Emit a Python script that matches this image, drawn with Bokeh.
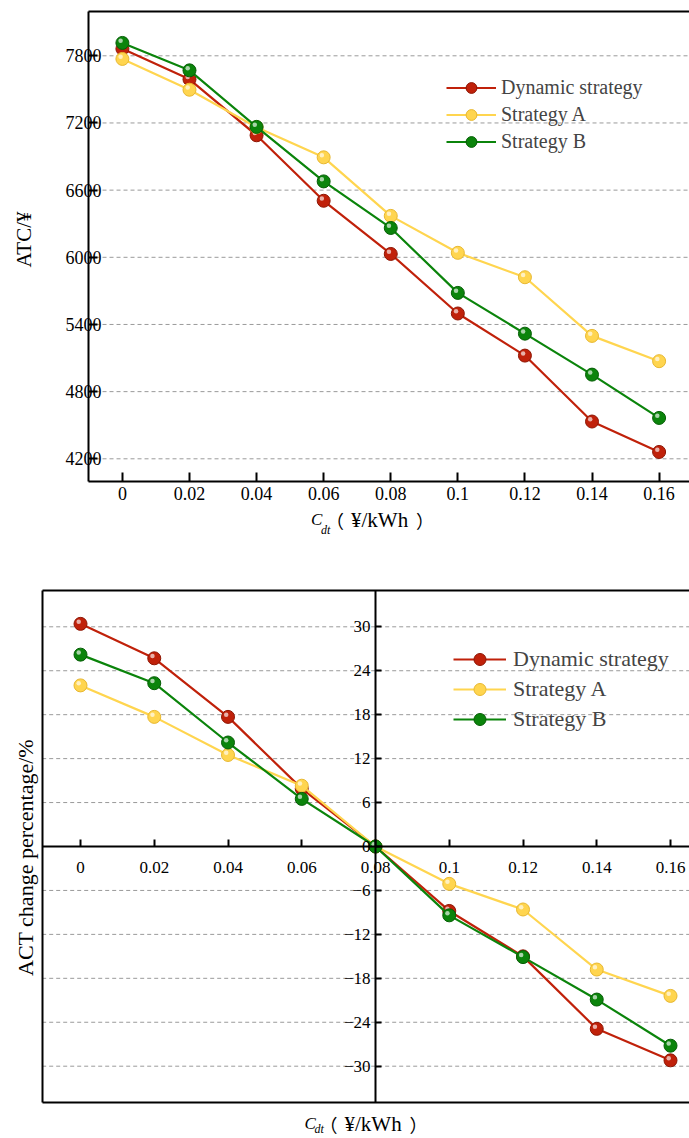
import numpy as np
from bokeh.plotting import figure
from bokeh.models import (Range1d, LinearAxis, FixedTicker, CustomJSTickFormatter,
                          Label, Legend, LegendItem)
from bokeh.layouts import column
from bokeh.embed import file_html
from bokeh.resources import INLINE

# ---------------- data ----------------
cdt = [0, 0.02, 0.04, 0.06, 0.08, 0.10, 0.12, 0.14, 0.16]
series_names = ["Dynamic strategy", "Strategy A", "Strategy B"]
atc_dynamic = [7862, 7590, 7090, 6505, 6030, 5498, 5122, 4533, 4261]
atc_a = [7772, 7497, 7162, 6893, 6370, 6040, 5822, 5298, 5072]
atc_b = [7915, 7670, 7165, 6678, 6262, 5682, 5318, 4952, 4565]
pct_dynamic = [30.4, 25.7, 17.7, 7.9, 0, -8.8, -15.0, -24.9, -29.2]
pct_a = [22.0, 17.7, 12.5, 8.3, 0, -5.1, -8.6, -16.8, -20.4]
pct_b = [26.2, 22.3, 14.2, 6.5, 0, -9.4, -15.1, -20.9, -27.2]
atc_ticks = [4200, 4800, 5400, 6000, 6600, 7200, 7800]
pct_ticks = [-30, -24, -18, -12, -6, 0, 6, 12, 18, 24, 30]

colors = ["#C0210A", "#FFD54F", "#0B840B"]
darks = ["#8E1604", "#E8B830", "#065E06"]

FONT = "Liberation Serif"
CJK = "Noto Sans CJK SC"
fmt_code = "var s = tick.toFixed(2); s = s.replace(/0+$/, ''); s = s.replace(/\\.$/, ''); return s;"

W = 689


def px_range(v0, p0, v1, p1, pa, pb):
    k = (v1 - v0) / (p1 - p0)
    return v0 + (pa - p0) * k, v0 + (pb - p0) * k


def style_axis(ax, size, tick_in, standoff):
    ax.axis_line_width = 2
    ax.axis_line_color = "black"
    ax.major_tick_in = tick_in
    ax.major_tick_out = 0
    ax.minor_tick_in = 0
    ax.minor_tick_out = 0
    ax.major_tick_line_width = 2
    ax.major_tick_line_color = "black"
    ax.minor_tick_line_color = None
    ax.major_label_text_font = FONT
    ax.major_label_text_font_size = size
    ax.major_label_text_color = "black"
    ax.major_label_standoff = standoff


def border_axis(loc, bounds):
    return LinearAxis(ticker=FixedTicker(ticks=[]), axis_line_width=2, axis_line_color="black",
                      major_tick_line_color=None, minor_tick_line_color=None,
                      major_label_text_font_size="0px", fixed_location=loc, bounds=bounds)


def add_series(p, ys_list, dx, dy, msize):
    items = []
    for name, ys, c, d in zip(series_names, ys_list, colors, darks):
        ln = p.line(cdt, ys, line_color=c, line_width=2.2)
        dot = p.scatter(cdt, ys, size=msize, fill_color=c, line_color=d, line_width=1)
        hx = [x + dx for x in cdt]
        hy = [y + dy for y in ys]
        p.scatter(hx, hy, size=4.5, fill_color="white", fill_alpha=0.65, line_color=None)
        items.append(LegendItem(label=name, renderers=[ln, dot]))
    return items


def make_fig(H, xr, yr, left_edge, ticks):
    p = figure(width=W, height=H, x_range=Range1d(*xr), y_range=Range1d(*yr),
               output_backend="svg", toolbar_location=None,
               min_border_left=0, min_border_right=0, min_border_top=0, min_border_bottom=0)
    p.outline_line_color = None
    p.background_fill_color = "white"
    p.border_fill_color = "white"
    p.xgrid.visible = False
    p.ygrid.visible = False
    # dashed horizontal grid lines starting at the plotting box's left edge
    p.segment(x0=[left_edge] * len(ticks), x1=[xr[1]] * len(ticks), y0=ticks, y1=ticks,
              line_color="#9a9a9a", line_dash="4 3", line_width=1, level="underlay")
    return p


def txt(p, H, x, y_top, text, size, style="normal", angle=0.0, align="left",
        baseline="alphabetic", font=FONT):
    p.add_layout(Label(x=x, y=H - y_top, x_units="screen", y_units="screen", text=text,
                       angle=angle, text_align=align, text_baseline=baseline,
                       text_font=font, text_font_style=style, text_font_size=size,
                       text_color="black"))


def xlabel(p, H, xc, base, sub_drop):
    txt(p, H, xc, base, "C", "17px", style="italic")
    txt(p, H, xc + 10, base + sub_drop, "dt", "12px", style="italic")
    txt(p, H, xc + 33, base, "（", "18px", align="right", font=CJK)
    txt(p, H, xc + 40, base, "¥/kWh", "21px")
    txt(p, H, xc + 105, base, "）", "18px", align="left", font=CJK)


# ---------------- top panel ----------------
H1 = 550
x1 = px_range(0.0, 121.9, 0.16, 658.6, 0, W)
y1 = px_range(7800, 55.3, 4200, 458.3, H1, 0)
x1_left = -0.0101
p1 = make_fig(H1, x1, y1, x1_left, atc_ticks)

p1.xaxis.ticker = FixedTicker(ticks=cdt)
p1.xaxis.formatter = CustomJSTickFormatter(code=fmt_code)
p1.yaxis.ticker = FixedTicker(ticks=atc_ticks)
style_axis(p1.xaxis[0], "18px", 9, 6)
style_axis(p1.yaxis[0], "18px", 9, -13)
p1.xaxis[0].fixed_location = 4000
p1.xaxis[0].bounds = (x1_left, 1)
p1.yaxis[0].fixed_location = x1_left
p1.yaxis[0].bounds = (4000, 8200)
p1.add_layout(border_axis(8200, (x1_left, 1)), "above")

dx1 = -1.8 * (x1[1] - x1[0]) / W
dy1 = 2.2 * (y1[1] - y1[0]) / H1
items1 = add_series(p1, [atc_dynamic, atc_a, atc_b], dx1, dy1, 13)
leg1 = Legend(items=items1, location=(446, 395), padding=0, margin=0, spacing=0,
              glyph_width=50, glyph_height=27, label_height=27, label_standoff=5,
              border_line_color=None, background_fill_alpha=0,
              label_text_font=FONT, label_text_font_size="20px")
p1.add_layout(leg1, "center")

txt(p1, H1, 23, 239, "ATC/¥", "21px", angle=np.pi / 2, align="center", baseline="middle")
xlabel(p1, H1, 310.5, 519, 10)

# ---------------- bottom panel ----------------
H2 = 1138 - H1
x2 = px_range(0.0, 80.0, 0.16, 670.0, 0, W)
y2 = px_range(30, 76.3, -30, 515.7, H2, 0)
x2_left = -0.010387
p2 = make_fig(H2, x2, y2, x2_left, pct_ticks)

p2.xaxis[0].ticker = FixedTicker(ticks=cdt)
p2.xaxis[0].formatter = CustomJSTickFormatter(code=fmt_code)
p2.yaxis[0].ticker = FixedTicker(ticks=pct_ticks)
style_axis(p2.xaxis[0], "17px", 7, 15)
style_axis(p2.yaxis[0], "17px", 6, 5)
p2.xaxis[0].fixed_location = 0
p2.xaxis[0].bounds = (x2_left, 1)
p2.yaxis[0].fixed_location = 0.08
p2.yaxis[0].bounds = (-35, 35)
p2.add_layout(border_axis(35, (x2_left, 1)), "above")
p2.add_layout(border_axis(-35, (x2_left, 1)), "below")
p2.add_layout(border_axis(x2_left, (-35, 35)), "left")

dx2 = -1.8 * (x2[1] - x2[0]) / W
dy2 = 2.2 * (y2[1] - y2[0]) / H2
items2 = add_series(p2, [pct_dynamic, pct_a, pct_b], dx2, dy2, 13)
leg2 = Legend(items=items2, location=(453, 404), padding=0, margin=0, spacing=0,
              glyph_width=53, glyph_height=30, label_height=30, label_standoff=7,
              border_line_color=None, background_fill_alpha=0,
              label_text_font=FONT, label_text_font_size="22px")
p2.add_layout(leg2, "center")

txt(p2, H2, 25, 307, "ACT change percentage/%", "22px", angle=np.pi / 2, align="center",
    baseline="middle")
xlabel(p2, H2, 304, 573.3, 5.5)

layout = column(p1, p2, spacing=0)
open("out.html", "w").write(file_html(layout, INLINE))
